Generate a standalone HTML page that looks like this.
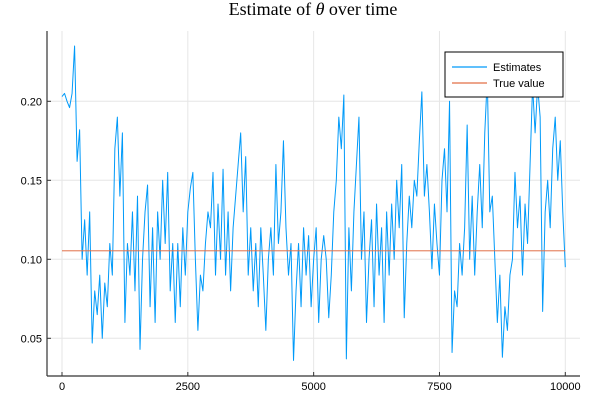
<!DOCTYPE html>
<html><head><meta charset="utf-8"><style>
html,body{margin:0;padding:0;background:#fff;}
svg{display:block;font-family:"Liberation Sans",sans-serif;}
</style></head><body>
<svg id="chart" width="600" height="400" viewBox="0 0 600 400">
<rect width="600" height="400" fill="#fff"/>
<text x="313" y="15" text-anchor="middle" font-family="Liberation Serif, serif" font-size="18">Estimate of <tspan font-style="italic">θ</tspan> over time</text>
<g id="grid"></g>
<g id="series"></g>
<g id="axes"></g>
<g>
<rect x="445" y="52" width="118" height="45" fill="#fff" stroke="#000" stroke-width="1"/>
<line x1="452" y1="67" x2="487" y2="67" stroke="#009af9" stroke-width="1.2"/>
<text x="493" y="71" font-size="11">Estimates</text>
<line x1="452" y1="83" x2="487" y2="83" stroke="#e26f46" stroke-width="1.2"/>
<text x="493" y="87" font-size="11">True value</text>
</g>
</svg>
<script>
const xTicks = [0, 2500, 5000, 7500, 10000];
const xTickLabels = ["0", "2500", "5000", "7500", "10000"];
const yTicks = [0.05, 0.10, 0.15, 0.20];
const yTickLabels = ["0.05", "0.10", "0.15", "0.20"];
const step = 50;
const estimates = [0.203,0.205,0.200,0.196,0.205,0.235,0.162,0.182,0.10,0.125,
0.09,0.13,0.047,0.08,0.065,0.09,0.05,0.085,0.07,0.11,
0.09,0.17,0.19,0.14,0.18,0.06,0.11,0.09,0.13,0.08,
0.14,0.043,0.10,0.13,0.147,0.07,0.12,0.06,0.13,0.10,
0.15,0.11,0.155,0.08,0.11,0.06,0.11,0.07,0.12,0.09,
0.13,0.145,0.155,0.10,0.055,0.09,0.08,0.11,0.13,0.12,
0.155,0.09,0.135,0.10,0.157,0.09,0.13,0.08,0.12,0.14,
0.16,0.18,0.13,0.165,0.09,0.12,0.08,0.11,0.07,0.12,
0.09,0.055,0.10,0.12,0.09,0.16,0.11,0.13,0.175,0.12,
0.09,0.11,0.036,0.08,0.11,0.07,0.12,0.09,0.115,0.07,
0.10,0.12,0.06,0.10,0.115,0.10,0.063,0.09,0.13,0.15,
0.19,0.17,0.204,0.037,0.12,0.08,0.13,0.16,0.19,0.10,
0.13,0.06,0.10,0.125,0.07,0.135,0.09,0.12,0.06,0.13,
0.09,0.135,0.10,0.15,0.12,0.16,0.063,0.11,0.14,0.12,
0.15,0.14,0.175,0.206,0.14,0.16,0.13,0.094,0.135,0.11,
0.09,0.15,0.17,0.13,0.20,0.041,0.08,0.07,0.11,0.09,
0.12,0.185,0.10,0.14,0.09,0.13,0.16,0.12,0.18,0.215,
0.13,0.14,0.10,0.06,0.09,0.038,0.07,0.055,0.09,0.10,
0.155,0.12,0.14,0.09,0.135,0.11,0.16,0.21,0.18,0.21,
0.19,0.067,0.13,0.15,0.12,0.17,0.19,0.15,0.175,0.13,0.095];
const trueValue = [0.1054];

const NS = "http://www.w3.org/2000/svg";
const L = 47, R = 580, T = 31, B = 376;
function xs(v){ return 62 + (v/10000)*(565.3-62); }
function ys(v){ return 259.3 - (v-0.10)/0.05*79; }
function mk(tag, attrs, parent){ const e=document.createElementNS(NS,tag); for(const k in attrs) e.setAttribute(k,attrs[k]); parent.appendChild(e); return e; }

const grid = document.getElementById('grid');
const axes = document.getElementById('axes');
const series = document.getElementById('series');

xTicks.forEach((t,i)=>{
  const g = mk('line',{x1:xs(t),x2:xs(t),y1:T,y2:B,stroke:'#e6e6e6','stroke-width':1},grid);
  
  
  const tk = mk('line',{x1:xs(t),x2:xs(t),y1:B,y2:B-4,stroke:'#333','stroke-width':1},axes);
  
  
  const lb = mk('text',{x:xs(t),y:390,'text-anchor':'middle','font-size':11,fill:'#000'},axes);
  lb.textContent = xTickLabels[i];
  
  
});
yTicks.forEach((t,i)=>{
  const g = mk('line',{x1:L,x2:R,y1:ys(t),y2:ys(t),stroke:'#e6e6e6','stroke-width':1},grid);
  
  
  const tk = mk('line',{x1:L,x2:L+4,y1:ys(t),y2:ys(t),stroke:'#333','stroke-width':1},axes);
  
  
  const lb = mk('text',{x:42,y:ys(t)+4,'text-anchor':'end','font-size':11,fill:'#000'},axes);
  lb.textContent = yTickLabels[i];
  
  
});
const ax1 = mk('line',{x1:L,x2:L,y1:T,y2:B,stroke:'#333','stroke-width':1.2},axes);


const ax2 = mk('line',{x1:L,x2:R,y1:B,y2:B,stroke:'#333','stroke-width':1.2},axes);



const pts = estimates.map((v,i)=>xs(i*step).toFixed(2)+','+ys(v).toFixed(2)).join(' ');
const est = mk('polyline',{points:pts,fill:'none',stroke:'#009af9','stroke-width':1,'stroke-linejoin':'round'},series);


const tv = mk('line',{x1:xs(0),x2:xs((estimates.length-1)*step),y1:ys(trueValue[0]),y2:ys(trueValue[0]),stroke:'#e26f46','stroke-width':1.3,'stroke-opacity':0.8},series);


</script>
</body></html>
